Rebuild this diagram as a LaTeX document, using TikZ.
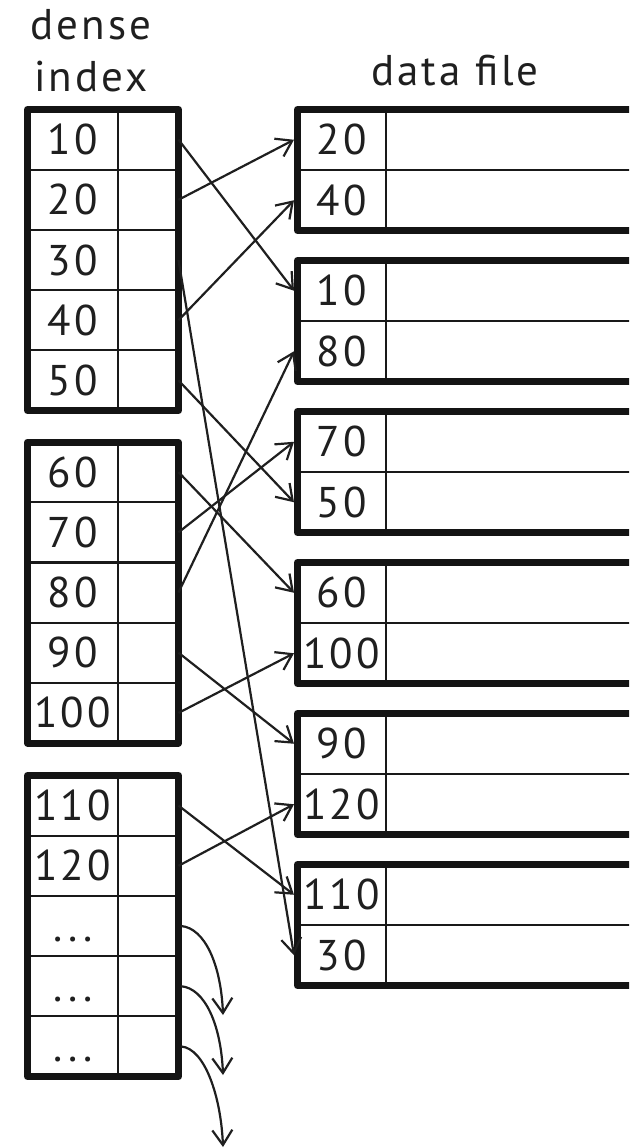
\documentclass[tikz,border=0pt]{standalone}
\usepackage{fontspec}
\setmainfont{PT Sans}[LetterSpace=7]
\usetikzlibrary{arrows.meta,calc}
\begin{document}
\begin{tikzpicture}[x=1pt,y=-1pt,
  thickbox/.style={line width=7pt, line join=round, draw=black!92},
  sepline/.style={line width=2.2pt, draw=black!90},
  lbl/.style={anchor=base, inner sep=0pt, font=\fontsize{43}{50}\selectfont, text=black!88},
  conn/.style={line width=2.2pt, draw=black!88, -{Straight Barb[length=15pt,width=20pt,line width=2.2pt]}},
]
\useasboundingbox (0,0) rectangle (629,1148);
\clip (0,0) rectangle (629,1148);

% titles
\node[lbl] (t1) at (91,40) {dense};
\node[lbl] (t2) at (91,91) {index};
\node[lbl] (t3) at (455,85) {data file};

% index blocks
\foreach \T in {109.5,442,775.5}{
  \draw[sepline] (118,\T) -- (118,\T+301);
  \foreach \r in {1,...,4} \draw[sepline] (27.5,\T+60.2*\r) -- (178.5,\T+60.2*\r);
  \draw[thickbox] (27.5,\T) rectangle (178.5,\T+301);
}

% data blocks
\foreach \k in {0,...,5}{
  \pgfmathsetmacro\T{109.5+151*\k}
  \draw[sepline] (386,\T) -- (386,\T+121);
  \draw[sepline] (297.5,\T+60.5) -- (700,\T+60.5);
  \draw[thickbox] (297.5,\T) rectangle (700,\T+121);
}

% index labels and row anchors
\foreach \lab/\y in {10/139.6,20/199.8,30/260.0,40/320.2,50/380.4,
                     60/472.1,70/532.3,80/592.5,90/652.7,100/712.9,
                     110/805.6,120/865.8}{
  \node[lbl] (il\lab) at (72.75,\y+15) {\lab};
  \coordinate (s\lab) at (178.5,\y);
}
\foreach \n/\y in {1/926.0,2/986.2,3/1046.4}{
  \node[lbl] (idots\n) at (72.75,\y+15) {...};
  \coordinate (e\n) at (181,\y);
}

% data labels and row anchors
\foreach \lab/\y in {20/139.75,40/200.25,10/290.75,80/351.25,
                     70/441.75,50/502.25,60/592.75,100/653.25,
                     90/743.75,120/804.25,110/894.75,30/955.25}{
  \node[lbl] (dl\lab) at (341.75,\y+15) {\lab};
  \coordinate (t\lab) at (294,\y);
}

% connectors
\foreach \lab in {10,20,30,40,50,60,70,80,90,100,110,120}{
  \draw[conn] (s\lab) -- (t\lab);
}

% continuation arrows
\coordinate (f1) at (223,1015);
\coordinate (f2) at (223,1075);
\coordinate (f3) at (223,1147);
\foreach \n in {1,2,3}{
  \draw[conn] (e\n) .. controls ($(e\n)+(24,2)$) and ($(f\n)+(-2,-50)$) .. (f\n);
}
\end{tikzpicture}
\end{document}
